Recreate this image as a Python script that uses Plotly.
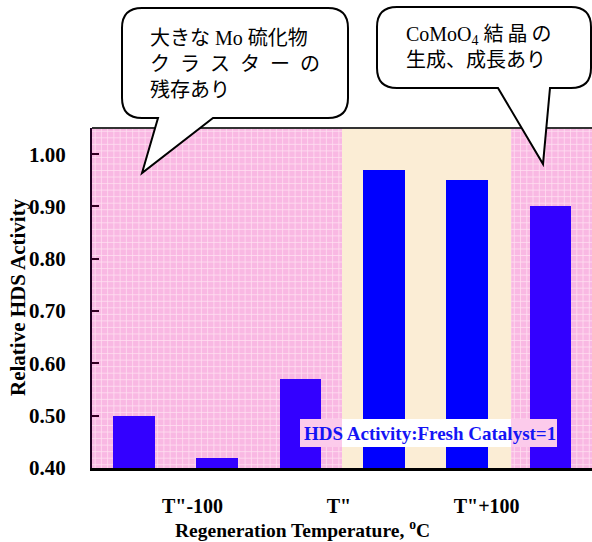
import plotly.graph_objects as go

# ---- data ----
bar_positions = [0, 1, 2, 3, 4, 5]
activity = [0.50, 0.42, 0.57, 0.97, 0.95, 0.90]
bar_colors = ["#3300FF", "#3300FF", "#3300FF", "#0000FF", "#0000FF", "#3300FF"]
tick_positions = [0.706, 2.464, 4.236]
tick_labels = ['T"-100', 'T"', 'T"+100']
band_edges = [-0.5, 2.5, 4.53, 5.5]
band_colors = ["#F9B8E3", "#FBEDD5", "#F9B8E3"]
band_gingham = [True, False, True]

W, H = 592, 542
L, R, T, B = 92, 0, 128, 74
PW, PH = W - L - R, H - T - B
Y0, Y1 = 0.4, 1.05


def px(x):
    return (x - L) / PW


def py(y):
    return (H - B - y) / PH


def P(x, y):
    return f"{px(x):.5f},{py(y):.5f}"


def bubble(l, t, r, b, rad, tail_a, tail_b, tip):
    return (
        f"M{P(l + rad, t)} L{P(r - rad, t)} Q{P(r, t)} {P(r, t + rad)} "
        f"L{P(r, b - rad)} Q{P(r, b)} {P(r - rad, b)} "
        f"L{P(tail_b, b)} L{P(tip[0], tip[1])} L{P(tail_a, b)} "
        f"L{P(l + rad, b)} Q{P(l, b)} {P(l, b - rad)} "
        f"L{P(l, t + rad)} Q{P(l, t)} {P(l + rad, t)} Z"
    )


def gingham_path(x0, x1, dx=0.075, dy=0.0125):
    segs = []
    x = x0 + dx / 2
    while x < x1:
        segs.append(f"M{x:.4f},{Y0} L{x:.4f},{Y1}")
        x += dx
    y = Y0 + dy / 2
    while y < Y1:
        segs.append(f"M{x0},{y:.5f} L{x1},{y:.5f}")
        y += dy
    return " ".join(segs)


fig = go.Figure()
fig.add_trace(go.Bar(
    x=bar_positions, y=activity, width=0.5,
    marker=dict(color=bar_colors, line=dict(width=0)),
    showlegend=False, hoverinfo="skip",
))

shapes = []
for i in range(len(band_colors)):
    shapes.append(dict(type="rect", xref="x", yref="paper",
                       x0=band_edges[i], x1=band_edges[i + 1], y0=0, y1=1,
                       fillcolor=band_colors[i], line=dict(width=0), layer="below"))
    if band_gingham[i]:
        shapes.append(dict(type="path", xref="x", yref="y",
                           path=gingham_path(band_edges[i], band_edges[i + 1]),
                           line=dict(color="rgba(255,226,242,0.75)", width=1),
                           layer="below"))

# top border
shapes.append(dict(type="line", xref="paper", yref="paper", x0=0, x1=1, y0=1, y1=1,
                   line=dict(color="#333333", width=2), layer="above"))

# label box (white in beige zone, pink in pink zones)
shapes.append(dict(type="rect", xref="paper", yref="paper",
                   x0=px(300), x1=px(557), y0=py(447), y1=py(419),
                   fillcolor="white", line=dict(width=0), layer="above"))
shapes.append(dict(type="rect", xref="paper", yref="paper",
                   x0=px(300), x1=px(342), y0=py(447), y1=py(419),
                   fillcolor="#FCCBEB", line=dict(width=0), layer="above"))
shapes.append(dict(type="rect", xref="paper", yref="paper",
                   x0=px(511), x1=px(557), y0=py(447), y1=py(419),
                   fillcolor="#FCCBEB", line=dict(width=0), layer="above"))

# speech bubbles
shapes.append(dict(type="path", xref="paper", yref="paper",
                   path=bubble(122, 8, 348, 118, 20, 158, 213, (142, 173)),
                   fillcolor="white", line=dict(color="black", width=2), layer="above"))
shapes.append(dict(type="path", xref="paper", yref="paper",
                   path=bubble(377, 7, 591, 88, 20, 498, 550, (543, 164)),
                   fillcolor="white", line=dict(color="black", width=2), layer="above"))

serif = "Liberation Serif, Times New Roman, serif"
jp = "Liberation Serif, Noto Sans CJK JP, serif"
sp = "\u2002"

annotations = [
    dict(text="<b>Relative HDS Activity</b>", xref="paper", yref="paper",
         x=px(18), y=py(297), xanchor="center", yanchor="middle",
         textangle=-90, showarrow=False,
         font=dict(family=serif, size=21, color="black")),
    dict(text="<b>Regeneration Temperature, <sup>o</sup>C</b>", xref="paper", yref="paper",
         x=px(302), y=py(529), xanchor="center", yanchor="middle", showarrow=False,
         font=dict(family=serif, size=19.5, color="black")),
    dict(text="<b>HDS Activity:Fresh Catalyst=1</b>", xref="paper", yref="paper",
         x=px(430), y=py(433), xanchor="center", yanchor="middle", showarrow=False,
         font=dict(family=serif, size=19, color="#1414F5")),
    dict(text="大きな Mo 硫化物<br>" + sp.join("クラスターの") + "<br>残存あり",
         xref="paper", yref="paper",
         x=px(148), y=py(25), xanchor="left", yanchor="top", align="left", showarrow=False,
         font=dict(family=jp, size=20, color="black")),
    dict(text="CoMoO<sub>4</sub> 結\u2009晶\u2009の<br>生成、成長あり", xref="paper", yref="paper",
         x=px(404), y=py(21), xanchor="left", yanchor="top", align="left", showarrow=False,
         font=dict(family=jp, size=20, color="black")),
]

fig.update_layout(
    width=W, height=H,
    margin=dict(l=L, r=R, t=T, b=B, pad=0, autoexpand=False),
    paper_bgcolor="white", plot_bgcolor="white",
    bargap=0,
    shapes=shapes, annotations=annotations,
    xaxis=dict(range=[-0.5, 5.5], tickvals=tick_positions, ticktext=tick_labels,
               automargin=False,
               showgrid=False, zeroline=False, showline=True, linecolor="black",
               linewidth=3, ticks="", ticklabelstandoff=18,
               tickfont=dict(family=serif, size=20, color="black", weight="bold")),
    yaxis=dict(range=[Y0, Y1], tick0=0.4, dtick=0.1, tickformat=".2f",
               automargin=False,
               showgrid=False, zeroline=False, showline=True, linecolor="#220022",
               linewidth=2, ticks="inside", ticklen=7, tickwidth=2, tickcolor="#330022",
               ticklabelstandoff=20,
               tickfont=dict(family=serif, size=21, color="black", weight="bold")),
)

fig.write_html(
    "out.html",
    config={"displayModeBar": False},
    post_script="document.body.style.margin='0';document.body.style.padding='0';"
                "document.body.style.overflow='hidden';",
)
